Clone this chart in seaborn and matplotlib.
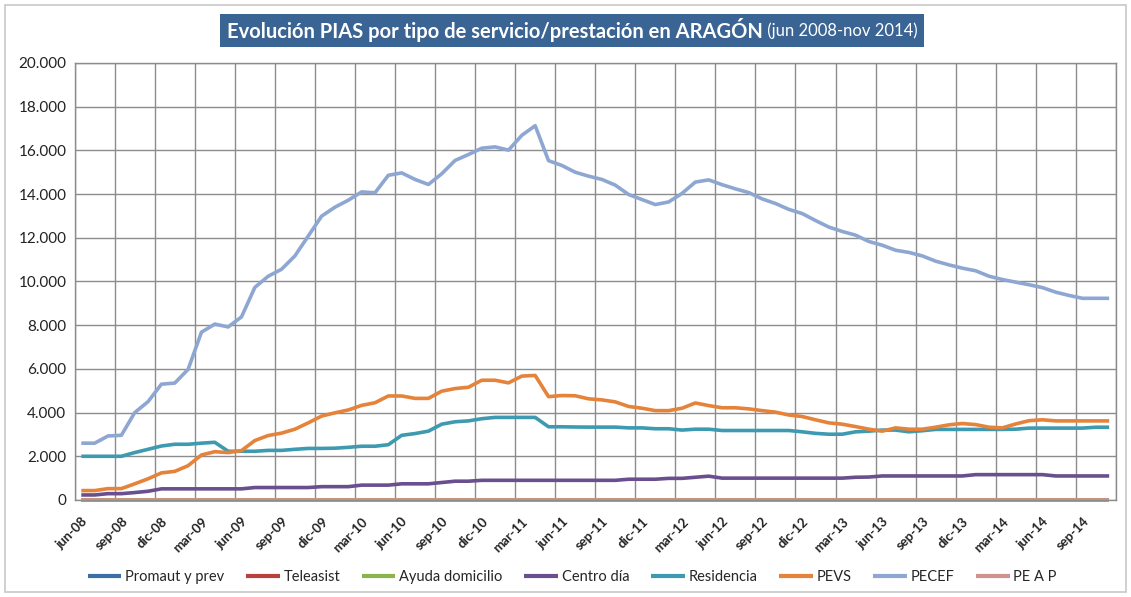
import numpy as np
import pandas as pd
import matplotlib
matplotlib.use('Agg')
import matplotlib.pyplot as plt
import seaborn as sns
from matplotlib.patches import Rectangle
from matplotlib.ticker import FuncFormatter, MultipleLocator, FixedLocator


# categorias: jun-08 ... nov-14 (78 meses)
meses = ['ene', 'feb', 'mar', 'abr', 'may', 'jun', 'jul', 'ago', 'sep', 'oct', 'nov', 'dic']
periodos = ['{}-{:02d}'.format(m, a) for a in range(8, 15) for m in meses][5:83]

promaut = [0] * 78
teleasist = [0] * 78
ayuda_domicilio = [0] * 78
peap = [0] * 78

centro_dia = [230, 230, 290, 290, 340, 400, 510, 510, 510, 510, 510, 510, 510,
              570, 570, 570, 570, 570, 610, 610, 610, 680, 680, 680, 740, 740,
              740, 800, 860, 860, 900,
              900, 900, 900, 900, 900, 900, 900, 900, 900, 900,
              950, 950, 950, 990, 990, 1040, 1090,
              1000, 1000, 1000, 1000, 1000, 1000, 1000, 1000, 1000, 1000,
              1040, 1050,
              1100, 1100, 1100, 1100, 1100, 1100, 1100,
              1160, 1160, 1160, 1160, 1160, 1160,
              1100, 1100, 1100, 1100, 1100]

residencia = [2000, 2000, 2000, 2000, 2170, 2320, 2470, 2550, 2550, 2600, 2640,
              2230, 2230, 2230, 2270, 2270, 2320, 2360, 2360, 2370, 2410, 2460,
              2460, 2530, 2960, 3040, 3150, 3470, 3580, 3620, 3720, 3780, 3780,
              3780, 3780, 3350, 3350, 3340, 3335, 3335, 3335, 3300, 3300, 3260,
              3260, 3200, 3240, 3240,
              3180, 3180, 3180, 3180, 3180, 3180,
              3120, 3050, 3010, 3010, 3120, 3150, 3200, 3200, 3120, 3170,
              3230, 3230, 3230, 3230, 3230, 3230,
              3240, 3290, 3290, 3290, 3290, 3290, 3330, 3330]

pevs = [430, 430, 520, 520, 740, 970, 1240, 1310, 1570, 2060, 2210, 2170, 2260,
        2720, 2950, 3060, 3240, 3530, 3840, 3990, 4120, 4330, 4450, 4760, 4760,
        4650, 4650, 4980, 5100, 5160, 5480, 5480, 5360, 5670, 5700, 4730, 4780,
        4770, 4630, 4580, 4490, 4280, 4200, 4090, 4090, 4200, 4440, 4320, 4220,
        4220, 4170, 4090, 4020, 3890, 3820, 3670, 3530, 3470, 3360, 3240, 3150,
        3300, 3240, 3240, 3330, 3440, 3500, 3450, 3330, 3300, 3480, 3630, 3670,
        3620, 3620, 3620, 3620, 3620]

pecef = [2600, 2600, 2930, 2960, 4000, 4500, 5300, 5350, 5980, 7680, 8050, 7920,
         8380, 9730, 10240, 10560, 11170, 12080, 12990, 13400, 13720, 14100,
         14060, 14860, 14970, 14670, 14440, 14930, 15540, 15810, 16100, 16160,
         16010, 16690, 17130, 15530, 15310, 15000, 14820, 14670, 14410, 13980,
         13750, 13520, 13640, 14030, 14550, 14650, 14430, 14240, 14070, 13780,
         13570, 13300, 13110, 12790, 12490, 12290, 12120, 11830, 11660, 11430,
         11330, 11170, 10930, 10760, 10610, 10490, 10240, 10090, 9970, 9850,
         9720, 9510, 9360, 9230, 9230, 9230]

series = ['Promaut y prev', 'Teleasist', 'Ayuda domicilio', 'Centro día',
          'Residencia', 'PEVS', 'PECEF', 'PE A P']
valores = [promaut, teleasist, ayuda_domicilio, centro_dia, residencia, pevs, pecef, peap]
colores = ['#3C6FA8', '#B8403D', '#8DB44C', '#6A4F8E', '#3D9AB0', '#E5833A', '#8DA7D2', '#D1918C']


if __name__ == '__main__':
	df = pd.concat([pd.DataFrame({'mes': np.arange(len(periodos)), 'valor': v, 'serie': s})
	                for s, v in zip(series, valores)], ignore_index=True)

	sns.set_style('white')
	plt.rcParams['font.family'] = ['Lato', 'DejaVu Sans']

	fig = plt.figure(figsize=(11.31, 5.97), dpi=100)
	ax = fig.add_axes([0.066, 0.1625, 0.9206, 0.732])

	sns.lineplot(data=df, x='mes', y='valor', hue='serie', hue_order=series,
	             palette=dict(zip(series, colores)), linewidth=2.6, ax=ax)
	for ln in ax.lines:
		ln.set_clip_on(False)
		ln.set_solid_capstyle('butt')

	ax.set_xlim(-0.5, len(periodos) - 0.5)
	ax.set_ylim(0, 20000)
	ax.yaxis.set_major_locator(MultipleLocator(2000))
	ax.yaxis.set_major_formatter(FuncFormatter(lambda v, p: '{:,}'.format(int(v)).replace(',', '.')))
	ax.xaxis.set_major_locator(FixedLocator(np.arange(0, len(periodos), 3)))
	ax.set_xticklabels(periodos[::3], rotation=45, ha='right', rotation_mode='anchor',
	                   fontweight='bold', fontsize=9.5, color='#222222')
	ax.xaxis.set_minor_locator(FixedLocator(np.arange(-0.5, len(periodos), 3)))
	ax.tick_params(axis='x', which='major', length=0, pad=11)
	ax.tick_params(axis='x', which='minor', length=0)
	ax.tick_params(axis='y', length=0, labelsize=11, pad=6, labelcolor='#222222')
	ax.grid(True, axis='y', which='major', color='#8C8C8C', lw=1)
	ax.grid(True, axis='x', which='minor', color='#8C8C8C', lw=1)
	ax.grid(False, axis='x', which='major')
	ax.set_axisbelow(True)
	for sp in ax.spines.values():
		sp.set_color('#8C8C8C')
		sp.set_linewidth(1)
	ax.set_xlabel('')
	ax.set_ylabel('')

	ax.legend(loc='center', bbox_to_anchor=(0.506, 0.034), bbox_transform=fig.transFigure,
	          ncol=8, frameon=False, fontsize=10.5, handlelength=2.3, handletextpad=0.25,
	          columnspacing=1.5)
	for h in ax.get_legend().get_lines():
		h.set_linewidth(3)

	# titulo en caja azul
	t1 = fig.text(0, 0.949, 'Evolución PIAS por tipo de servicio/prestación en ARAGÓN',
	              fontsize=14, fontweight='bold', color='white', va='center')
	t2 = fig.text(0, 0.949, ' (jun 2008-nov 2014)', fontsize=12, color='white', va='center')
	fig.canvas.draw()
	r = fig.canvas.get_renderer()
	t1.set_fontsize(14 * 540 / t1.get_window_extent(r).width)
	fig.canvas.draw()
	w1 = t1.get_window_extent(r).width
	w2 = t2.get_window_extent(r).width
	x0 = 572 - (w1 + w2) / 2
	t1.set_x(x0 / 1131)
	t2.set_x((x0 + w1) / 1131)
	fig.patches.append(Rectangle(((x0 - 7) / 1131, 1 - 47 / 597), (w1 + w2 + 14) / 1131, 33 / 597,
	                             transform=fig.transFigure, facecolor='#3A6494', edgecolor='none', zorder=0))
	fig.patches.append(Rectangle((5 / 1131, 5 / 597), 1121 / 1131, 587 / 597, transform=fig.transFigure,
	                             facecolor='none', edgecolor='#C8C8C8', lw=1.2))

	fig.savefig('out.png', dpi=100)
	plt.close(fig)
